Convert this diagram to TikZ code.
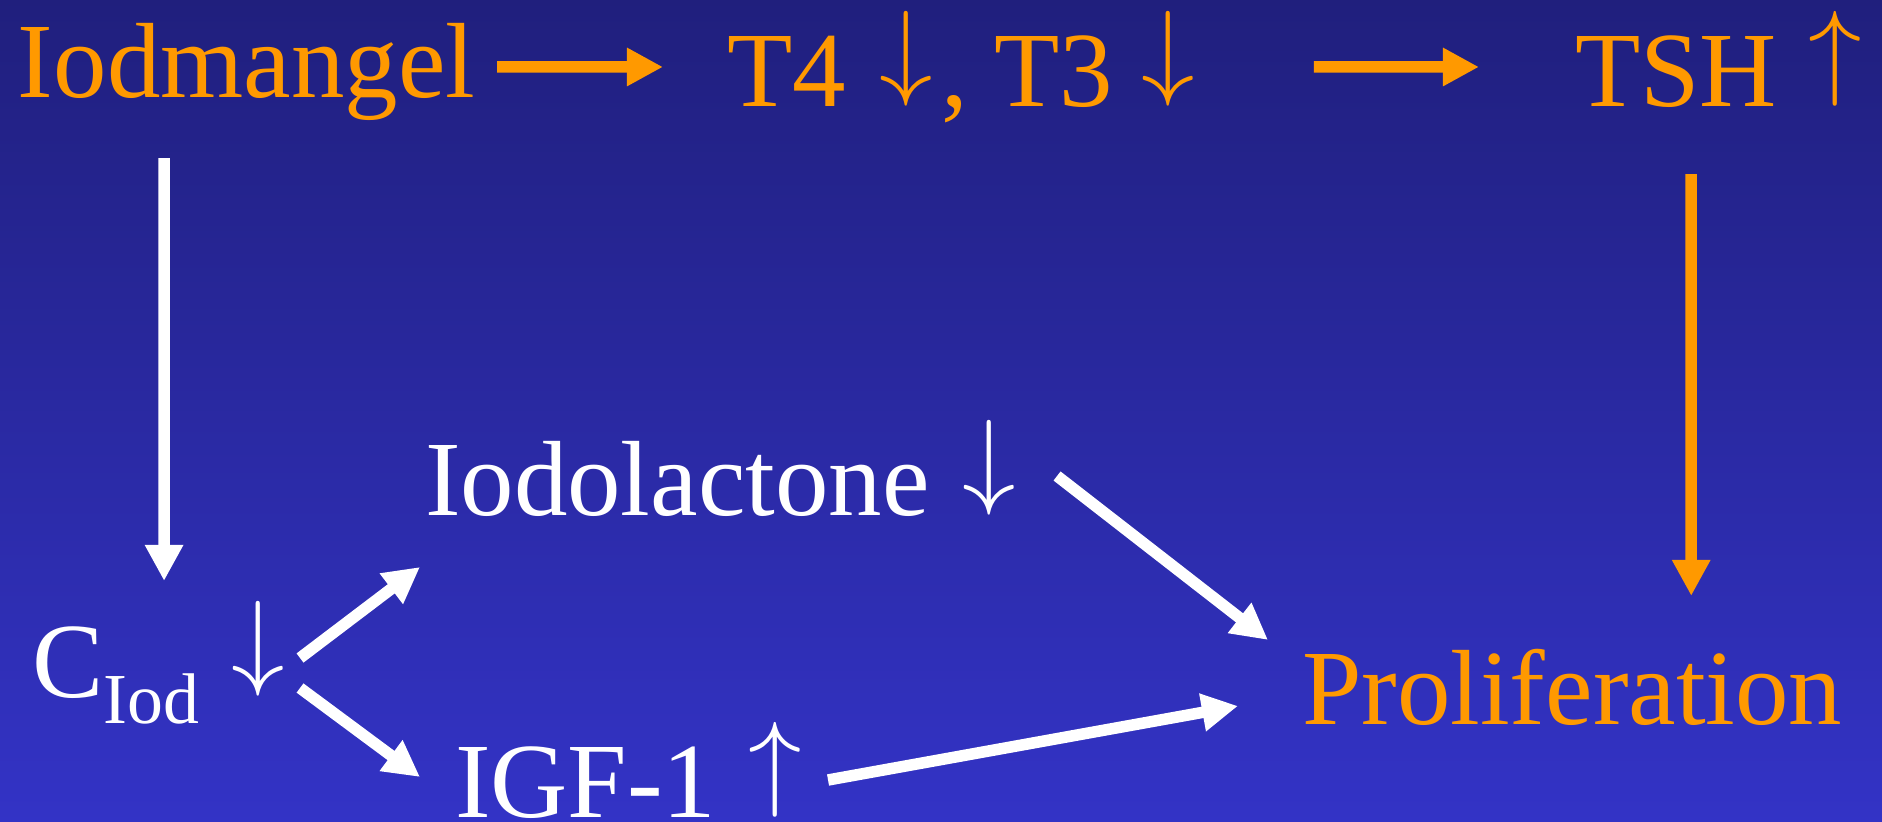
\RequirePackage{fix-cm}
\documentclass[tikz,border=0pt]{standalone}
\usepackage{fontspec}
\setmainfont{Liberation Serif}
\usetikzlibrary{arrows.meta}
\definecolor{orng}{RGB}{255,153,0}
\definecolor{bgtop}{RGB}{32,31,125}
\definecolor{bgbot}{RGB}{51,51,198}
\begin{document}
\begin{tikzpicture}[x=0.01cm,y=-0.01cm,
  txt/.style={inner sep=0pt, outer sep=0pt, font=\fontsize{30.4}{36}\selectfont},
  otxt/.style={txt, text=orng},
  wtxt/.style={txt, text=white},
  oarr/.style={draw=orng, line width=0.115cm, -{Triangle[length=0.36cm,width=0.36cm]}},
  warr/.style={draw=white, line width=0.115cm, -{Triangle[length=0.36cm,width=0.36cm]}}
]
\shade[top color=bgtop, bottom color=bgbot] (0,0) rectangle (1882,822);
\useasboundingbox (0,0) rectangle (1882,822);

% top row
\node[otxt, anchor=base west] (iod) at (18,98) {Iodmangel};
\node[otxt, anchor=base west] (t4) at (727,107) {T4};
\node[otxt] (t4a) at (906,58.5) {$\downarrow$};
\node[otxt, anchor=base west] (t3) at (941,107) {, T3};
\node[otxt] (t3a) at (1168,58.5) {$\downarrow$};
\node[otxt, anchor=base west] (tsh) at (1575,107) {TSH};
\node[otxt] (tsha) at (1835,58.5) {$\uparrow$};

% lower part
\node[wtxt, anchor=base west] (ciod) at (32,697) {C\raisebox{-0.26cm}{\fontsize{20.4}{24}\selectfont Iod}};
\node[wtxt] (ca) at (258,649) {$\downarrow$};
\node[wtxt, anchor=base west] (lact) at (425,516) {Iodolactone};
\node[wtxt] (la) at (989,467.5) {$\downarrow$};
\node[wtxt, anchor=base west] (igf) at (455,817) {IGF-1};
\node[wtxt] (ia) at (775,769.5) {$\uparrow$};
\node[otxt, anchor=base west] (prolif) at (1302,724) {Proliferation};

% orange connectors
\draw[oarr] ([xshift=0.22cm,yshift=0.31cm]iod.base east) -- ([xshift=-0.64cm,yshift=0.40cm]t4.base west);
\draw[oarr] ([xshift=1.19cm,yshift=-0.085cm]t3a.east) -- ([xshift=-0.96cm,yshift=0.40cm]tsh.base west);
\draw[oarr] ([xshift=1.16cm,yshift=-0.67cm]tsh.base west) -- ([xshift=3.89cm,yshift=1.28cm]prolif.base west);

% white connectors
\draw[warr] ([xshift=1.46cm,yshift=-0.60cm]iod.base west) -- ([xshift=1.32cm,yshift=1.16cm]ciod.base west);
\draw[warr] ([xshift=0.42cm,yshift=-0.09cm]ca.center) -- ([xshift=-0.05cm,yshift=-0.51cm]lact.base west);
\draw[warr] ([xshift=0.42cm,yshift=-0.39cm]ca.center) -- ([xshift=-0.35cm,yshift=0.40cm]igf.base west);
\draw[warr] ([xshift=0.68cm,yshift=-0.085cm]la.center) -- ([xshift=-0.34cm,yshift=0.84cm]prolif.base west);
\draw[warr] ([xshift=0.53cm,yshift=-0.105cm]ia.center) -- ([xshift=-0.64cm,yshift=0.18cm]prolif.base west);
\end{tikzpicture}
\end{document}
